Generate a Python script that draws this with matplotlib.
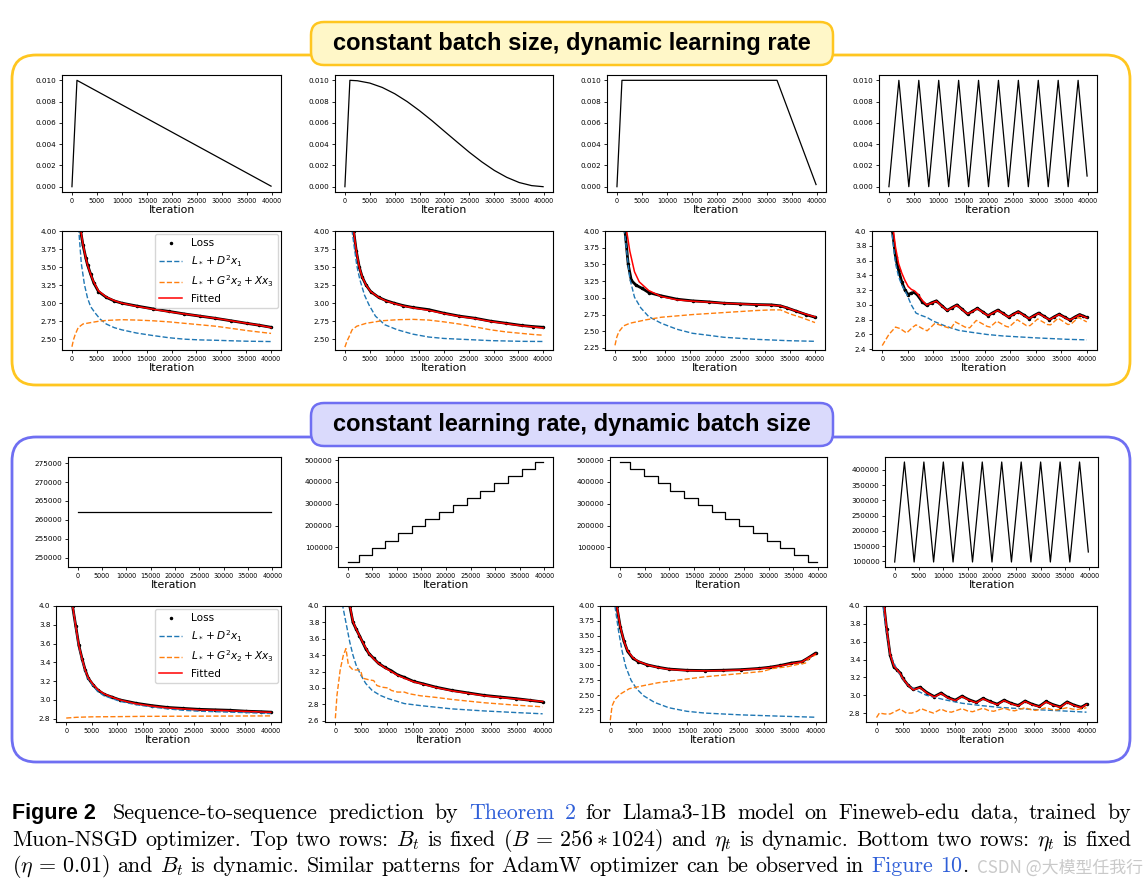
import matplotlib
matplotlib.use("Agg")
import matplotlib.pyplot as plt
from matplotlib.patches import FancyBboxPatch
from matplotlib.ticker import MultipleLocator, FormatStrFormatter

# ---------------- schedules ----------------
lr_lin_it = [0, 1000, 39800]
lr_lin = [0.0, 0.0100, 0.00005]

lr_cos_it = [0, 1000, 2500, 5000, 7500, 10000, 12500, 15000, 17500, 20000,
             22500, 25000, 27500, 30000, 32500, 35000, 37500, 39800]
lr_cos = [0.0, 0.0100, 0.00996, 0.00974, 0.00933, 0.00874, 0.00800, 0.00714,
          0.00620, 0.00520, 0.00421, 0.00323, 0.00233, 0.00153, 0.00088,
          0.00039, 0.00010, 0.00000]

lr_wsd_it = [0, 1000, 32000, 39800]
lr_wsd = [0.0, 0.0100, 0.0100, 0.0002]

cyc_it = [0, 2000, 4000, 6000, 8000, 10000, 12000, 14000, 16000, 18000, 20000,
          22000, 24000, 26000, 28000, 30000, 32000, 34000, 36000, 38000, 39800]
lr_cyc = [0.0, 0.01, 0.0, 0.01, 0.0, 0.01, 0.0, 0.01, 0.0, 0.01, 0.0,
          0.01, 0.0, 0.01, 0.0, 0.01, 0.0, 0.01, 0.0, 0.01, 0.001]

bs_const_it = [0, 39800]
bs_const = [262144, 262144]

bs_up_steps = [2200, 4900, 7600, 10300, 13100, 15800, 18600, 21400, 24200,
               27000, 29800, 32600, 35400, 38100]
bs_up_levels = [32768, 65536, 98304, 131072, 163840, 196608, 229376, 262144,
                294912, 327680, 360448, 393216, 425984, 458752, 491520]

bs_down_steps = [2000, 4900, 7600, 10200, 13000, 15800, 18500, 21300, 24000,
                 26800, 29700, 32400, 35100, 37900]
bs_down_levels = [491520, 458752, 425984, 393216, 360448, 327680, 294912, 262144,
                  229376, 196608, 163840, 131072, 98304, 65536, 32768]

bs_cyc = [98304, 425984, 98304, 425984, 98304, 425984, 98304, 425984, 98304,
          425984, 98304, 425984, 98304, 425984, 98304, 425984, 98304, 425984,
          98304, 425984, 131072]

# ---------------- losses, constant batch size ----------------
t1_it = [1500, 1750, 2200, 2800, 3130, 3760, 4390, 5330, 6900, 8500, 10000,
         13000, 16300, 19500, 22600, 25700, 28800, 32000, 35100, 37500, 40000]
t1_loss = [4.15, 4.00, 3.81, 3.62, 3.53, 3.40, 3.28, 3.16, 3.08, 3.03, 3.00,
           2.96, 2.92, 2.885, 2.85, 2.82, 2.79, 2.755, 2.72, 2.695, 2.665]
t1_fit = [4.17, 4.02, 3.82, 3.62, 3.53, 3.40, 3.29, 3.17, 3.085, 3.035, 3.00,
          2.955, 2.915, 2.88, 2.85, 2.82, 2.79, 2.755, 2.72, 2.695, 2.66]
t1_d_it = [1200, 1380, 1880, 2500, 3130, 3760, 4700, 5640, 6900, 8500, 10000,
           13000, 16300, 19500, 22600, 25700, 28800, 32000, 35100, 40000]
t1_d = [4.15, 4.00, 3.55, 3.26, 3.07, 2.95, 2.86, 2.78, 2.71, 2.66, 2.63,
        2.585, 2.55, 2.52, 2.50, 2.49, 2.485, 2.478, 2.472, 2.467]
t1_g_it = [0, 300, 630, 1250, 2200, 3760, 5500, 6900, 8500, 10000, 13100, 16300,
           19500, 22600, 25700, 28800, 32000, 35100, 37500, 40000]
t1_g = [2.395, 2.49, 2.56, 2.66, 2.71, 2.73, 2.75, 2.76, 2.765, 2.77, 2.765, 2.755,
        2.74, 2.72, 2.70, 2.68, 2.65, 2.62, 2.60, 2.58]

t2_it = [1600, 1760, 2300, 2900, 3500, 4280, 5200, 6800, 8300, 9900, 11800, 13700,
         16900, 20000, 23100, 26300, 29400, 32600, 35700, 38000, 40000]
t2_loss = [4.10, 4.00, 3.72, 3.50, 3.36, 3.25, 3.16, 3.08, 3.035, 3.00, 2.965, 2.94,
           2.91, 2.86, 2.82, 2.79, 2.75, 2.72, 2.69, 2.675, 2.665]
t2_fit = [4.12, 4.01, 3.72, 3.50, 3.36, 3.25, 3.16, 3.08, 3.03, 2.995, 2.96, 2.935,
          2.90, 2.855, 2.815, 2.785, 2.745, 2.715, 2.685, 2.67, 2.655]
t2_d_it = [1300, 1450, 2400, 3000, 3960, 4900, 6160, 8050, 10600, 13700, 16900,
           20000, 23100, 26300, 29400, 32600, 35700, 40000]
t2_d = [4.12, 4.00, 3.52, 3.33, 3.11, 2.97, 2.82, 2.70, 2.63, 2.57, 2.53,
        2.51, 2.50, 2.49, 2.48, 2.475, 2.47, 2.468]
t2_g_it = [0, 400, 820, 1450, 2400, 4280, 7400, 10600, 13700, 16900, 20000, 23100,
           26300, 29400, 32600, 35700, 38000, 40000]
t2_g = [2.39, 2.47, 2.53, 2.63, 2.68, 2.72, 2.755, 2.77, 2.775, 2.765, 2.74, 2.71,
        2.67, 2.63, 2.60, 2.58, 2.565, 2.555]

t3_it = [1800, 2000, 2640, 3270, 4210, 5470, 6730, 9250, 12400, 15500, 18700,
         21800, 25000, 28100, 31300, 33100, 34400, 36300, 38200, 40000]
t3_loss = [4.15, 4.00, 3.50, 3.26, 3.19, 3.14, 3.08, 3.03, 2.98, 2.955, 2.94,
           2.92, 2.91, 2.90, 2.895, 2.88, 2.85, 2.80, 2.75, 2.71]
t3_fit_it = [2100, 2330, 2960, 3900, 4840, 6730, 9250, 12400, 15500, 18700,
             21800, 25000, 28100, 31300, 33100, 34400, 36300, 38200, 40000]
t3_fit = [4.15, 4.00, 3.70, 3.39, 3.24, 3.11, 3.02, 2.97, 2.95, 2.935,
          2.92, 2.91, 2.90, 2.89, 2.88, 2.85, 2.80, 2.755, 2.715]
t3_d_it = [1700, 1890, 2330, 2960, 3900, 5160, 6730, 9250, 12400, 15500, 18700,
           21800, 28100, 34400, 40000]
t3_d = [4.15, 4.00, 3.70, 3.29, 3.01, 2.85, 2.72, 2.62, 2.53, 2.47, 2.44,
        2.41, 2.38, 2.36, 2.35]
t3_g_it = [0, 350, 750, 1700, 2960, 6100, 9250, 15500, 21800, 28100, 31300,
           33100, 35000, 37500, 40000]
t3_g = [2.29, 2.41, 2.49, 2.58, 2.62, 2.67, 2.71, 2.75, 2.78, 2.81, 2.82,
        2.82, 2.76, 2.70, 2.63]

t4_it = [1800, 2000, 2600, 3200, 3830, 4450, 5070, 5690, 6300, 6920, 7850,
         8700, 9650, 10600, 11650, 12700, 13650, 14600, 15650,
         16700, 17650, 18600, 19650, 20700, 21650, 22600, 23650,
         24700, 25650, 26600, 27650, 28700, 29650, 30600, 31650,
         32700, 33650, 34600, 35650, 36700, 37650, 38600, 39300, 40000]
t4_loss = [4.10, 4.00, 3.65, 3.47, 3.31, 3.20, 3.14, 3.16, 3.17, 3.13, 3.04,
           2.995, 3.03, 3.055, 2.99, 2.925, 2.965, 3.00, 2.94,
           2.875, 2.915, 2.955, 2.905, 2.855, 2.895, 2.93, 2.885,
           2.835, 2.875, 2.91, 2.865, 2.815, 2.855, 2.89, 2.845,
           2.80, 2.84, 2.875, 2.835, 2.795, 2.835, 2.87, 2.85, 2.83]
t4_fit = [4.25, 4.10, 3.78, 3.56, 3.43, 3.33, 3.25, 3.21, 3.19, 3.15, 3.06,
          3.00, 3.025, 3.05, 2.985, 2.925, 2.96, 2.995, 2.935,
          2.88, 2.91, 2.95, 2.90, 2.855, 2.89, 2.925, 2.88,
          2.835, 2.87, 2.905, 2.86, 2.815, 2.85, 2.885, 2.84,
          2.80, 2.835, 2.87, 2.83, 2.795, 2.83, 2.865, 2.845, 2.825]
t4_d_it = [1600, 1850, 2600, 3210, 3830, 4760, 5690, 6600, 7540, 8780, 10000,
           12500, 15000, 17400, 20500, 23600, 29800, 36000, 40000]
t4_d = [4.15, 4.00, 3.56, 3.38, 3.27, 3.15, 3.00, 2.89, 2.86, 2.83, 2.78,
        2.71, 2.655, 2.63, 2.60, 2.58, 2.555, 2.535, 2.527]
t4_g_it = [0, 1300, 2600, 3500, 4760, 6000, 6600, 7850, 8780, 10300, 12500, 13400,
           14300, 16200, 17100, 18400, 20500, 21100, 22400, 24200, 24800, 26400,
           28200, 28900, 30400, 32300, 32900, 34400, 36300, 36900, 38400, 40000]
t4_g = [2.45, 2.60, 2.70, 2.68, 2.62, 2.70, 2.73, 2.68, 2.65, 2.75, 2.70, 2.68,
        2.77, 2.70, 2.69, 2.79, 2.71, 2.70, 2.78, 2.71, 2.70, 2.80,
        2.72, 2.72, 2.81, 2.735, 2.73, 2.82, 2.735, 2.74, 2.83, 2.77]

# ---------------- losses, constant learning rate ----------------
b1_it = [1000, 1230, 1850, 2470, 3090, 3700, 4320, 5250, 6170, 7400, 8950, 10500,
         13600, 16700, 19800, 22800, 26000, 29000, 32000, 35200, 38000, 40000]
b1_loss = [4.10, 4.00, 3.79, 3.58, 3.44, 3.32, 3.23, 3.16, 3.105, 3.06, 3.03, 3.00,
           2.965, 2.94, 2.92, 2.91, 2.90, 2.895, 2.89, 2.88, 2.875, 2.87]
b1_fit = [4.11, 4.01, 3.79, 3.58, 3.44, 3.32, 3.235, 3.165, 3.11, 3.065, 3.03, 3.00,
          2.96, 2.935, 2.915, 2.905, 2.895, 2.89, 2.885, 2.878, 2.872, 2.868]
b1_d = [4.10, 4.00, 3.78, 3.57, 3.43, 3.31, 3.22, 3.15, 3.09, 3.045, 3.015, 2.985,
        2.95, 2.925, 2.905, 2.89, 2.88, 2.875, 2.87, 2.865, 2.86, 2.855]
b1_g_it = [0, 2000, 5000, 10000, 15000, 20000, 30000, 40000]
b1_g = [2.807, 2.815, 2.82, 2.822, 2.825, 2.826, 2.828, 2.83]

b2_it = [2500, 2780, 3400, 4000, 4630, 5250, 5860, 6480, 7400, 8330, 9570, 10800,
         12000, 13300, 15100, 17000, 19400, 22500, 25600, 28700, 31800, 34900,
         37500, 40000]
b2_loss = [4.10, 4.00, 3.80, 3.72, 3.64, 3.56, 3.48, 3.42, 3.36, 3.30, 3.25, 3.21,
           3.16, 3.13, 3.08, 3.05, 3.01, 2.97, 2.94, 2.91, 2.89, 2.87,
           2.85, 2.83]
b2_fit = [4.12, 4.01, 3.81, 3.72, 3.64, 3.56, 3.49, 3.42, 3.355, 3.30, 3.245, 3.20,
          3.155, 3.12, 3.075, 3.045, 3.005, 2.965, 2.935, 2.905, 2.885, 2.865,
          2.85, 2.835]
b2_d_it = [1200, 1420, 2160, 2780, 3400, 4000, 4940, 5860, 7100, 8640, 10200, 13300,
           16400, 22500, 28700, 34900, 40000]
b2_d = [4.12, 4.00, 3.76, 3.56, 3.40, 3.28, 3.155, 3.055, 2.97, 2.91, 2.87, 2.81,
        2.785, 2.745, 2.72, 2.70, 2.685]
b2_g_it = [0, 310, 930, 1540, 2040, 2470, 2780, 3400, 4630, 4940, 5250, 6480, 7400,
           8020, 8950, 10200, 10800, 12000, 13300, 14200, 16400, 19400, 22500,
           25600, 28700, 34900, 40000]
b2_g = [2.63, 2.91, 3.22, 3.40, 3.48, 3.30, 3.26, 3.22, 3.22, 3.20, 3.12, 3.10, 3.09,
        3.03, 3.01, 3.00, 2.97, 2.95, 2.95, 2.93, 2.905, 2.885, 2.86,
        2.84, 2.82, 2.79, 2.77]

b3_it = [1100, 1260, 1960, 2660, 3360, 4410, 5460, 7210, 9310, 11400, 14900, 18400,
         21900, 25400, 28900, 31000, 33100, 35200, 37300, 38400, 40000]
b3_loss = [4.10, 4.00, 3.64, 3.41, 3.24, 3.12, 3.065, 3.01, 2.97, 2.94, 2.92, 2.915,
           2.92, 2.93, 2.95, 2.97, 3.00, 3.04, 3.065, 3.12, 3.21]
b3_fit = [4.12, 4.01, 3.65, 3.41, 3.25, 3.13, 3.07, 3.01, 2.965, 2.935, 2.915, 2.91,
          2.915, 2.925, 2.945, 2.965, 2.995, 3.03, 3.06, 3.12, 3.20]
b3_d_it = [750, 910, 1610, 2310, 3010, 4060, 5110, 6510, 8610, 11400, 14900, 18400,
           25400, 32400, 40000]
b3_d = [4.12, 4.00, 3.58, 3.24, 2.98, 2.75, 2.61, 2.49, 2.38, 2.29, 2.23, 2.20,
        2.17, 2.15, 2.13]
b3_g_it = [0, 350, 910, 1960, 3710, 5810, 9310, 12800, 18400, 25400, 29600, 31700,
           34500, 36600, 38000, 38700, 40000]
b3_g = [2.08, 2.32, 2.43, 2.52, 2.61, 2.65, 2.71, 2.75, 2.81, 2.865, 2.90, 2.95,
        2.98, 3.02, 3.04, 3.12, 3.18]

b4_it = [1300, 1440, 1920, 2600, 3290, 3980, 4500, 5000, 6040, 7000, 8300, 9600,
         11000, 12300, 13600, 15000, 16300, 17600, 19000, 20300, 21600, 23000,
         24300, 25600, 27000, 28300, 29600, 31000, 32300, 33600, 35000, 36300,
         37600, 39000, 40000]
b4_loss = [4.08, 4.00, 3.74, 3.45, 3.32, 3.28, 3.25, 3.19, 3.11, 3.065, 3.09, 3.03,
           2.985, 3.025, 2.975, 2.945, 2.99, 2.95, 2.92, 2.965, 2.93, 2.90,
           2.945, 2.91, 2.885, 2.935, 2.90, 2.875, 2.93, 2.895, 2.87, 2.925,
           2.89, 2.865, 2.90]
b4_fit = [4.10, 4.02, 3.75, 3.46, 3.33, 3.28, 3.245, 3.19, 3.11, 3.06, 3.085, 3.025,
          2.98, 3.02, 2.97, 2.94, 2.985, 2.945, 2.915, 2.96, 2.925, 2.895,
          2.94, 2.905, 2.88, 2.93, 2.895, 2.87, 2.925, 2.89, 2.865, 2.92,
          2.885, 2.86, 2.895]
b4_d_it = [1100, 1230, 1920, 2600, 3630, 4660, 6040, 7400, 9470, 12900, 16300, 19750,
           23200, 30000, 36900, 40000]
b4_d = [4.08, 4.00, 3.70, 3.46, 3.32, 3.21, 3.11, 3.06, 3.00, 2.95, 2.91, 2.885,
        2.865, 2.84, 2.82, 2.81]
b4_g_it = [0, 550, 1580, 2600, 3630, 4500, 5690, 6720, 7750, 8500, 9800, 10840,
           12300, 13240, 14270, 16300, 17300, 18300, 20300, 21300, 22300, 24300,
           25300, 26300, 28300, 29300, 30300, 32300, 33300, 34300, 36300, 37300,
           38300, 40000]
b4_g = [2.75, 2.80, 2.79, 2.79, 2.82, 2.845, 2.80, 2.80, 2.82, 2.85, 2.82, 2.80,
        2.845, 2.82, 2.81, 2.85, 2.825, 2.815, 2.855, 2.83, 2.82, 2.855,
        2.835, 2.825, 2.86, 2.84, 2.83, 2.86, 2.84, 2.835, 2.86, 2.845,
        2.84, 2.86]

legend_labels = ["Loss", r"$L_* + D^2x_1$", r"$L_* + G^2x_2 + Xx_3$", "Fitted"]
banner_top = "constant batch size, dynamic learning rate"
banner_bottom = "constant learning rate, dynamic batch size"

# ---------------- figure ----------------
W, H = 1146, 890
fig = plt.figure(figsize=(W / 100, H / 100), dpi=100)
bg = fig.add_axes([0, 0, 1, 1])
bg.set_xlim(0, W)
bg.set_ylim(H, 0)
bg.axis("off")

GOLD, GOLD_FILL = "#FFC620", "#FFF7C8"
BLUE, BLUE_FILL = "#6F6FF2", "#DADAFC"

for y0, y1, ec, fc, text in [(55, 385, GOLD, GOLD_FILL, banner_top),
                              (437, 762, BLUE, BLUE_FILL, banner_bottom)]:
    bg.add_patch(FancyBboxPatch((12, y0), 1118, y1 - y0,
                                boxstyle="round,pad=0,rounding_size=24",
                                fc="none", ec=ec, lw=2.0))
    by0 = y0 - 33 if y0 < 100 else y0 - 34
    bg.add_patch(FancyBboxPatch((311, by0), 522, 43,
                                boxstyle="round,pad=0,rounding_size=13",
                                fc=fc, ec=ec, lw=1.8))
    bg.text(572, by0 + 21.5, text, ha="center", va="center", fontsize=17,
            fontweight="bold", family="Liberation Sans")


def px_axes(x0, y0, x1, y1):
    return fig.add_axes([x0 / W, 1 - y1 / H, (x1 - x0) / W, (y1 - y0) / H])


def style(ax, ystep, fmt):
    ax.xaxis.set_major_locator(MultipleLocator(5000))
    ax.yaxis.set_major_locator(MultipleLocator(ystep))
    ax.yaxis.set_major_formatter(FormatStrFormatter(fmt))
    ax.tick_params(axis="x", labelsize=4.7, length=2.5, width=0.6, pad=1.5)
    ax.tick_params(axis="y", labelsize=5.2, length=2.5, width=0.6, pad=1.5)
    ax.set_xlabel("Iteration", fontsize=7.8, labelpad=1)
    for s in ax.spines.values():
        s.set_linewidth(0.8)


def loss_panel(ax, it, loss, fit_it, fit, d_it, d, g_it, g, ylim, ystep, fmt,
               legend=False):
    ax.plot(it, loss, color="k", lw=2.0, solid_capstyle="round")
    ax.plot(it, loss, "k.", ms=3, label=legend_labels[0])
    ax.plot(d_it, d, "--", color="#1f77b4", lw=1.0, label=legend_labels[1])
    ax.plot(g_it, g, "--", color="#ff7f0e", lw=1.0, label=legend_labels[2])
    ax.plot(fit_it, fit, "-", color="red", lw=1.1, label=legend_labels[3])
    ax.set_ylim(*ylim)
    style(ax, ystep, fmt)
    if legend:
        ax.legend(fontsize=7.6, loc="upper right", handlelength=2.2,
                  borderpad=0.4, labelspacing=0.45, borderaxespad=0.3,
                  framealpha=0.8)


def step_xy(steps, levels):
    return [0] + steps + [39800], levels + [levels[-1]]


# row 1: learning-rate schedules
row1 = [(62, 281), (335, 553), (607, 826), (879, 1097)]
for (x0, x1), (xs, ys) in zip(row1, [(lr_lin_it, lr_lin), (lr_cos_it, lr_cos),
                                     (lr_wsd_it, lr_wsd), (cyc_it, lr_cyc)]):
    ax = px_axes(x0, 75, x1, 192)
    ax.plot(xs, ys, color="k", lw=0.9)
    style(ax, 0.002, "%.3f")

# row 2: losses with dynamic learning rate
ax = px_axes(62, 231, 281, 350)
loss_panel(ax, t1_it, t1_loss, t1_it, t1_fit, t1_d_it, t1_d, t1_g_it, t1_g,
           (2.35, 4.0), 0.25, "%.2f", legend=True)
ax = px_axes(335, 231, 553, 350)
loss_panel(ax, t2_it, t2_loss, t2_it, t2_fit, t2_d_it, t2_d, t2_g_it, t2_g,
           (2.35, 4.0), 0.25, "%.2f")
ax = px_axes(605, 231, 825, 350)
loss_panel(ax, t3_it, t3_loss, t3_fit_it, t3_fit, t3_d_it, t3_d, t3_g_it, t3_g,
           (2.22, 4.0), 0.25, "%.2f")
ax = px_axes(872, 231, 1097, 350)
loss_panel(ax, t4_it, t4_loss, t4_it, t4_fit, t4_d_it, t4_d, t4_g_it, t4_g,
           (2.39, 4.0), 0.2, "%.1f")

# row 3: batch-size schedules
ax = px_axes(68, 457, 281, 567)
ax.plot(bs_const_it, bs_const, color="k", lw=0.9)
ax.set_ylim(247600, 276600)
style(ax, 5000, "%d")

ax = px_axes(338, 457, 553, 567)
ax.step(*step_xy(bs_up_steps, bs_up_levels), where="post", color="k", lw=0.9)
style(ax, 100000, "%d")

ax = px_axes(610, 457, 827, 567)
ax.step(*step_xy(bs_down_steps, bs_down_levels), where="post", color="k", lw=0.9)
style(ax, 100000, "%d")

ax = px_axes(885, 457, 1098, 567)
ax.plot(cyc_it, bs_cyc, color="k", lw=0.9)
style(ax, 50000, "%d")

# row 4: losses with dynamic batch size
ax = px_axes(56, 606, 281, 722)
loss_panel(ax, b1_it, b1_loss, b1_it, b1_fit, b1_it, b1_d, b1_g_it, b1_g,
           (2.765, 4.0), 0.2, "%.1f", legend=True)
ax = px_axes(325, 606, 553, 722)
loss_panel(ax, b2_it, b2_loss, b2_it, b2_fit, b2_d_it, b2_d, b2_g_it, b2_g,
           (2.585, 4.0), 0.2, "%.1f")
ax = px_axes(600, 606, 826, 722)
loss_panel(ax, b3_it, b3_loss, b3_it, b3_fit, b3_d_it, b3_d, b3_g_it, b3_g,
           (2.05, 4.0), 0.25, "%.2f")
ax = px_axes(866, 606, 1097, 722)
loss_panel(ax, b4_it, b4_loss, b4_it, b4_fit, b4_d_it, b4_d, b4_g_it, b4_g,
           (2.70, 4.0), 0.2, "%.1f")

# ---------------- caption ----------------
LINK = "#2F5FD8"
CAP_FS = 15.8
renderer = fig.canvas.get_renderer()

line1 = [("Sequence-to-sequence", "k"), ("prediction", "k"), ("by", "k"),
         ("Theorem", LINK), ("2", LINK), ("for", "k"), ("Llama3-1B", "k"),
         ("model", "k"), ("on", "k"), ("Fineweb-edu", "k"), ("data,", "k"),
         ("trained", "k"), ("by", "k")]
line2 = [("Muon-NSGD", "k"), ("optimizer.", "k"), ("Top", "k"), ("two", "k"),
         ("rows:", "k"), (r"$B_t$", "k"), ("is", "k"), ("fixed", "k"),
         (r"$(B\,=\,256 * 1024)$", "k"), ("and", "k"), (r"$\eta_t$", "k"),
         ("is", "k"), ("dynamic.", "k"), ("Bottom", "k"), ("two", "k"),
         ("rows:", "k"), (r"$\eta_t$", "k"), ("is", "k"), ("fixed", "k")]
line3 = [(r"$(\eta\,=\,0.01)$", "k"), ("and", "k"), (r"$B_t$", "k"), ("is", "k"),
         ("dynamic.", "k"), ("Similar", "k"), ("patterns", "k"), ("for", "k"),
         ("AdamW", "k"), ("optimizer", "k"), ("can", "k"), ("be", "k"),
         ("observed", "k"), ("in", "k"), ("Figure", LINK), ("10", LINK)]


def caption_line(words, y, x0, x1=None, tail=None):
    arts = [bg.text(0, y, s, color=c, fontsize=CAP_FS, family="cmr10",
                    math_fontfamily="cm", va="baseline", ha="left")
            for s, c in words]
    widths = [t.get_window_extent(renderer).width for t in arts]
    if x1 is None:
        gap = 0.33 * CAP_FS * 100 / 72
    else:
        gap = (x1 - x0 - sum(widths)) / (len(arts) - 1)
    x = x0
    for t, w in zip(arts, widths):
        t.set_x(x)
        x += w + gap
    if tail:
        bg.text(x - gap, y, tail, color="k", fontsize=CAP_FS, family="cmr10",
                va="baseline", ha="left")


bg.text(12, 819, "Figure 2", fontsize=15.5, fontweight="bold",
        family="Liberation Sans", va="baseline", ha="left")
caption_line(line1, 819, 113, 1131)
caption_line(line2, 846, 12, 1131)
caption_line(line3, 872, 12, tail=".")

bg.text(1143, 873, "CSDN @大模型任我行", ha="right", va="baseline", fontsize=12.2,
        color="#c4c4c4", alpha=0.9, family=["Noto Sans CJK SC", "DejaVu Sans"])

fig.savefig("out.png", dpi=100)
